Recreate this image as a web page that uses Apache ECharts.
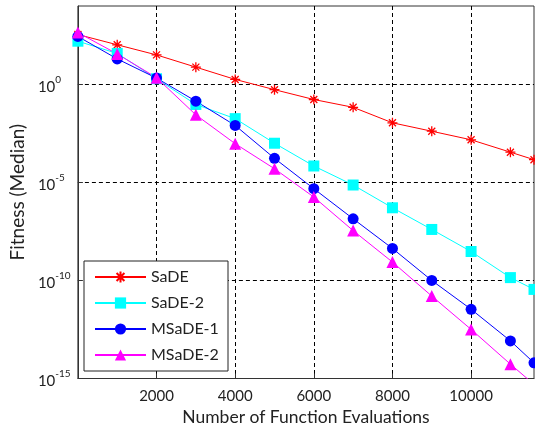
<!DOCTYPE html>
<html><head><meta charset="utf-8">
<script src="https://cdn.jsdelivr.net/npm/echarts@6/dist/echarts.min.js"></script>
<style>html,body{margin:0;padding:0;background:#fff}#c{width:535px;height:432px}</style>
</head><body><div id="c"></div>
<script>
// Number of function evaluations (x)
const evals = [0, 1000, 2000, 3000, 4000, 5000, 6000, 7000, 8000, 9000, 10000, 11000, 11600];
// Median fitness values (log scale)
const sade   = [3.5e2, 1.05e2, 3.2e1, 7.6, 1.8, 5.4e-1, 1.7e-1, 6.8e-2, 1.1e-2, 4.1e-3, 1.5e-3, 3.5e-4, 1.45e-4];
const sade2  = [1.6e2, 3.8e1, 1.95, 9.5e-2, 1.8e-2, 1.0e-3, 6.9e-5, 7.4e-6, 5.1e-7, 4.0e-8, 3.0e-9, 1.4e-10, 3.5e-11];
const msade1 = [2.8e2, 2.0e1, 2.1, 1.4e-1, 8.1e-3, 1.7e-4, 4.8e-6, 1.4e-7, 4.3e-9, 1.0e-10, 3.4e-12, 8.3e-14, 6.3e-15];
const msade2 = [4.4e2, 3.6e1, 2.2, 2.8e-2, 9.5e-4, 5.0e-5, 1.8e-6, 3.5e-8, 8.7e-10, 1.6e-11, 3.2e-13, 5.4e-15, 5.0e-16];
const seriesNames = ['SaDE', 'SaDE-2', 'MSaDE-1', 'MSaDE-2'];
const xTitle = 'Number of Function Evaluations';
const yTitle = 'Fitness (Median)';

const FONT = 'Lato';
const pairs = arr => arr.map((v, i) => [evals[i], v]);
const starPath = 'path://M5,0L5,10M0,5L10,5M1.5,1.5L8.5,8.5M1.5,8.5L8.5,1.5';

const chart = echarts.init(document.getElementById('c'), null, {renderer: 'canvas'});
const mk = (name, data, color, symbol, size, extra) => Object.assign({
  name, type: 'line', data: pairs(data), symbol, symbolSize: size,
  lineStyle: {color, width: 1}, itemStyle: {color}, animation: false, clip: true
}, extra || {});

chart.setOption({
  animation: false,
  grid: {left: 76, top: 6, width: 458, height: 372.5, show: true, borderColor: '#333', borderWidth: 1},
  legend: {
    orient: 'vertical', left: 84, top: 261,
    backgroundColor: '#fff', borderColor: '#222', borderWidth: 1,
    padding: [7, 9, 7, 10], itemWidth: 51, itemHeight: 14, itemGap: 8,
    textStyle: {fontFamily: FONT, fontSize: 16, color: '#222', lineHeight: 18, width: 68},
    data: seriesNames
  },
  xAxis: {
    type: 'value', min: 0, max: 11600, interval: 2000,
    name: xTitle, nameLocation: 'middle', nameGap: 28,
    nameTextStyle: {fontFamily: FONT, fontSize: 17.5, color: '#222'},
    axisLine: {show: true, lineStyle: {color: '#333', width: 1}},
    axisTick: {show: true, inside: true, length: 5, lineStyle: {color: '#333'}},
    axisLabel: {fontFamily: FONT, fontSize: 15, color: '#222', margin: 10, showMinLabel: false, showMaxLabel: false,
      formatter: v => String(v)},
    splitLine: {show: true, showMinLine: false, showMaxLine: false, lineStyle: {color: '#000', type: [4, 3], width: 1}}
  },
  yAxis: {
    type: 'log', logBase: 10, min: 1e-15, max: 1e4, interval: 5,
    name: yTitle, nameLocation: 'middle', nameGap: 48,
    nameTextStyle: {fontFamily: FONT, fontSize: 19, color: '#222'},
    axisLine: {show: true, lineStyle: {color: '#333', width: 1}},
    axisTick: {show: true, inside: true, length: 5, lineStyle: {color: '#333'}},
    axisLabel: {
      align: 'left', margin: 40, showMaxLabel: false,
      formatter: v => '{b|10}{s|' + Math.round(Math.log10(v)) + '}',
      rich: {
        b: {fontFamily: FONT, fontSize: 15, color: '#222', lineHeight: 20, verticalAlign: 'bottom'},
        s: {fontFamily: FONT, fontSize: 10, color: '#222', lineHeight: 20, verticalAlign: 'top'}
      }
    },
    splitLine: {show: true, showMinLine: false, showMaxLine: false, lineStyle: {color: '#000', type: [4, 3], width: 1}}
  },
  series: [
    mk(seriesNames[0], sade, '#ff0000', starPath, 10, {itemStyle: {color: '#ff0000', borderColor: '#ff0000', borderWidth: 1.3}}),
    mk(seriesNames[1], sade2, '#00ffff', 'rect', 11),
    mk(seriesNames[2], msade1, '#0000ff', 'circle', 11),
    mk(seriesNames[3], msade2, '#ff00ff', 'triangle', 12)
  ]
});
</script></body></html>
